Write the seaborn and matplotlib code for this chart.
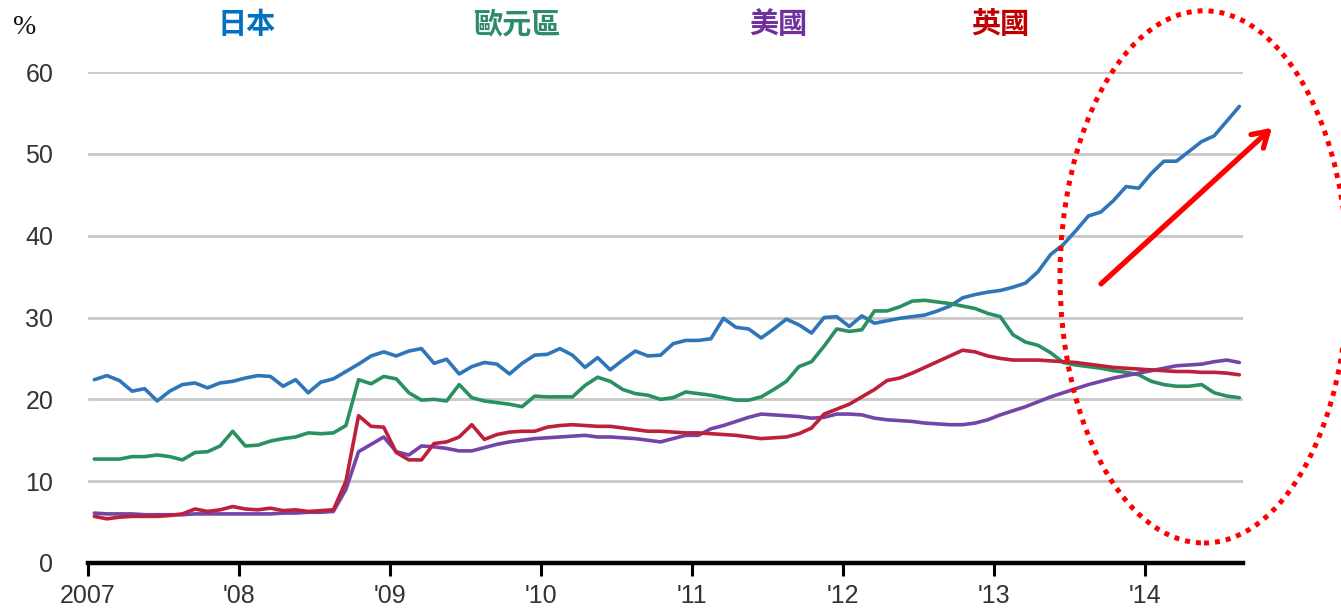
import numpy as np
import pandas as pd
import matplotlib
matplotlib.use("Agg")
import matplotlib.pyplot as plt
import seaborn as sns
from matplotlib.patches import Ellipse

# ---- data (monthly, Jan 2007 - Aug 2014), % ----
start_year = 2007
japan = [22.4, 22.9, 22.3, 21.0, 21.3, 19.8, 21.0, 21.8, 22.0, 21.4, 22.0, 22.2,
         22.6, 22.9, 22.8, 21.6, 22.4, 20.8, 22.1, 22.5, 23.4, 24.3, 25.3, 25.8,
         25.3, 25.9, 26.2, 24.4, 24.9, 23.1, 24.0, 24.5, 24.3, 23.1, 24.4, 25.4,
         25.5, 26.2, 25.4, 23.9, 25.1, 23.6, 24.8, 25.9, 25.3, 25.4, 26.8, 27.2,
         27.2, 27.4, 29.9, 28.8, 28.6, 27.5, 28.6, 29.8, 29.1, 28.1, 30.0, 30.1,
         28.9, 30.2, 29.3, 29.6, 29.9, 30.1, 30.3, 30.8, 31.4, 32.4, 32.8, 33.1,
         33.3, 33.7, 34.2, 35.6, 37.7, 38.9, 40.6, 42.4, 42.9, 44.3, 46.0, 45.8,
         47.6, 49.1, 49.1, 50.3, 51.5, 52.2, 54.0, 55.8]
eurozone = [12.7, 12.7, 12.7, 13.0, 13.0, 13.2, 13.0, 12.6, 13.5, 13.6, 14.3, 16.1,
            14.3, 14.4, 14.9, 15.2, 15.4, 15.9, 15.8, 15.9, 16.8, 22.4, 21.9, 22.8,
            22.5, 20.8, 19.9, 20.0, 19.8, 21.8, 20.2, 19.8, 19.6, 19.4, 19.1, 20.4,
            20.3, 20.3, 20.3, 21.7, 22.7, 22.2, 21.2, 20.7, 20.5, 20.0, 20.2, 20.9,
            20.7, 20.5, 20.2, 19.9, 19.9, 20.3, 21.2, 22.2, 24.0, 24.6, 26.5, 28.6,
            28.3, 28.5, 30.8, 30.8, 31.3, 32.0, 32.1, 31.9, 31.7, 31.4, 31.1, 30.5,
            30.1, 27.9, 27.0, 26.6, 25.7, 24.5, 24.2, 24.0, 23.8, 23.5, 23.3, 23.0,
            22.2, 21.8, 21.6, 21.6, 21.8, 20.8, 20.4, 20.2]
usa = [6.1, 6.0, 6.0, 6.0, 5.9, 5.9, 5.9, 5.9, 6.0, 6.0, 6.0, 6.0,
       6.0, 6.0, 6.0, 6.1, 6.1, 6.2, 6.2, 6.3, 9.0, 13.6, 14.5, 15.4,
       13.6, 13.2, 14.3, 14.2, 14.0, 13.7, 13.7, 14.1, 14.5, 14.8, 15.0, 15.2,
       15.3, 15.4, 15.5, 15.6, 15.4, 15.4, 15.3, 15.2, 15.0, 14.8, 15.2, 15.6,
       15.6, 16.4, 16.8, 17.3, 17.8, 18.2, 18.1, 18.0, 17.9, 17.7, 17.8, 18.2,
       18.2, 18.1, 17.7, 17.5, 17.4, 17.3, 17.1, 17.0, 16.9, 16.9, 17.1, 17.5,
       18.1, 18.6, 19.1, 19.7, 20.3, 20.8, 21.3, 21.8, 22.2, 22.6, 22.9, 23.2,
       23.5, 23.8, 24.1, 24.2, 24.3, 24.6, 24.8, 24.5]
uk = [5.7, 5.4, 5.6, 5.7, 5.7, 5.7, 5.8, 6.0, 6.6, 6.3, 6.5, 6.9,
      6.6, 6.5, 6.7, 6.4, 6.5, 6.3, 6.4, 6.5, 10.0, 18.0, 16.7, 16.6,
      13.5, 12.6, 12.6, 14.6, 14.8, 15.4, 16.9, 15.1, 15.7, 16.0, 16.1, 16.1,
      16.6, 16.8, 16.9, 16.8, 16.7, 16.7, 16.5, 16.3, 16.1, 16.1, 16.0, 15.9,
      15.9, 15.8, 15.7, 15.6, 15.4, 15.2, 15.3, 15.4, 15.8, 16.5, 18.2, 18.8,
      19.4, 20.3, 21.2, 22.3, 22.6, 23.2, 23.9, 24.6, 25.3, 26.0, 25.8, 25.3,
      25.0, 24.8, 24.8, 24.8, 24.7, 24.6, 24.5, 24.3, 24.1, 23.9, 23.8, 23.7,
      23.6, 23.5, 23.4, 23.4, 23.3, 23.3, 23.2, 23.0]

series_names = ["日本", "歐元區", "美國", "英國"]
line_colors = ["#2f76b8", "#2a9062", "#7445a8", "#bd2038"]
label_colors = ["#0070C0", "#2E8B6A", "#7030A0", "#C00000"]
year_ticks = [2007, 2008, 2009, 2010, 2011, 2012, 2013, 2014]
year_labels = ["2007", "'08", "'09", "'10", "'11", "'12", "'13", "'14"]
y_ticks = [0, 10, 20, 30, 40, 50, 60]

n = len(japan)
t = start_year + (np.arange(n) + 0.5) / 12.0
frames = []
for name, vals in zip(series_names, [japan, eurozone, usa, uk]):
    frames.append(pd.DataFrame({"t": t, "v": vals, "s": name}))
df = pd.concat(frames, ignore_index=True)

sns.set_theme(style="white")
plt.rcParams['font.family'] = ['Liberation Sans', 'DejaVu Sans']

fig = plt.figure(figsize=(13.41, 6.11), dpi=100)
ax = fig.add_axes([88/1341, 1 - 563/611, (1243 - 88)/1341, (563 - 72)/611])

sns.lineplot(data=df, x="t", y="v", hue="s", hue_order=series_names,
             palette=line_colors, linewidth=2.6, legend=False, ax=ax)

ax.set_xlim(2007, 2007 + 1155/151)
ax.set_ylim(0, 60)
ax.set_yticks(y_ticks)
ax.set_yticklabels([str(v) for v in y_ticks])
ax.set_xticks(year_ticks)
ax.set_xticklabels(year_labels)
ax.set_xlabel("")
ax.set_ylabel("")

for v in y_ticks[1:]:
    ax.axhline(v, color="#c8c8c8", linewidth=2.0, zorder=0)

for sp in ["top", "right", "left"]:
    ax.spines[sp].set_visible(False)
ax.spines["bottom"].set_color("black")
ax.spines["bottom"].set_linewidth(3.2)
ax.spines["bottom"].set_zorder(5)

ax.tick_params(axis="x", direction="out", length=9, width=2.2, color="black",
               labelsize=18, labelcolor="#333333", pad=6, bottom=True)
ax.tick_params(axis="y", length=0, labelsize=18, labelcolor="#333333", pad=25)
ax.grid(False)

# ---- annotation: dotted ellipse and arrow ----
def px2data(px, py):
    return 2007 + (px - 88) / 151.0, (563 - py) / 8.18

cx, cy = px2data(1204, 277)
ell = Ellipse((cx, cy), width=288/151.0, height=532/8.18, fill=False,
              edgecolor="#ff0000", linewidth=3.6, linestyle=(0, (1, 1.2)),
              clip_on=False, zorder=6)
ax.add_patch(ell)
x0, y0 = px2data(1101, 284)
x1, y1 = px2data(1272, 128)
ax.annotate("", xy=(x1, y1), xytext=(x0, y0),
            arrowprops=dict(arrowstyle="->,head_length=0.9,head_width=0.55",
                            color="#ff0000", linewidth=3.8, shrinkA=0, shrinkB=0),
            annotation_clip=False, zorder=7)

# ---- header labels ----
fig.text(25/1341, 1 - 27/611, "%", fontsize=20, color="#111111",
         family=["Liberation Serif", "DejaVu Serif"], ha="center", va="center")
label_x = [247, 517, 778, 1000]
for name, col, lx in zip(series_names, label_colors, label_x):
    fig.text(lx/1341, 1 - 24/611, name, fontsize=21, color=col, fontweight="bold",
             family=["Noto Sans CJK TC", "DejaVu Sans"], ha="center", va="center")

fig.savefig("out.png", dpi=100, facecolor="white")
